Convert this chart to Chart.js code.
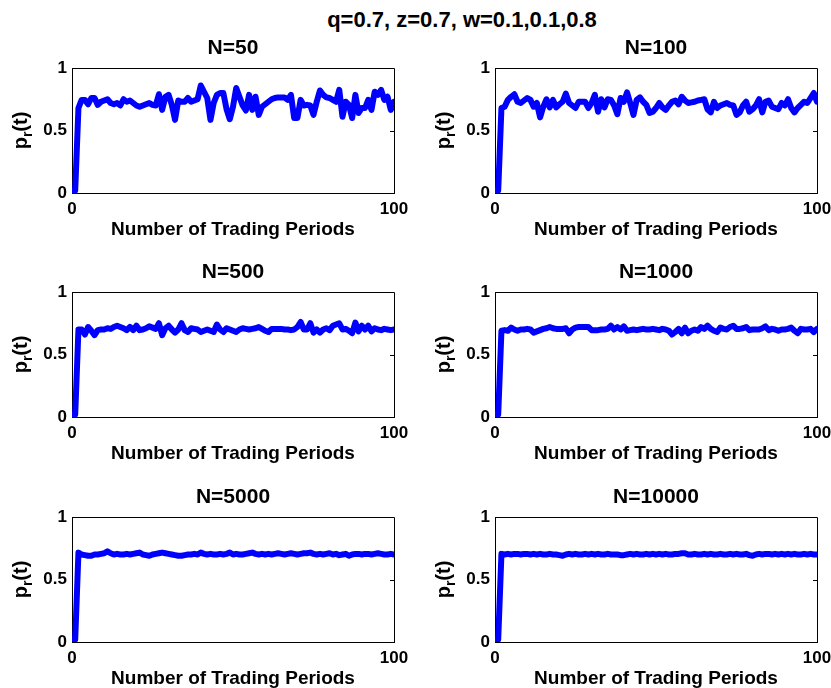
<!DOCTYPE html>
<html>
<head>
<meta charset="utf-8">
<script src="https://cdn.jsdelivr.net/npm/chart.js@4.4.0/dist/chart.umd.min.js"></script>
<style>
  html, body { margin: 0; padding: 0; background: #fff; overflow: hidden; }
  #page { position: relative; width: 831px; height: 688px; overflow: hidden; }
  #page canvas { position: absolute; }
  #suptitle {
    position: absolute; left: 262px; width: 400px; top: 7px;
    text-align: center; line-height: 24px; white-space: nowrap;
    font: bold 22px "Liberation Sans", Arial, Helvetica, sans-serif; color: #000;
  }
</style>
</head>
<body>
<div id="page">
  <div id="suptitle">q=0.7, z=0.7, w=0.1,0.1,0.8</div>
  <canvas id="c50" width="415" height="240" style="left:0px;top:8px"></canvas>
  <canvas id="c100" width="430" height="240" style="left:415px;top:8px"></canvas>
  <canvas id="c500" width="415" height="240" style="left:0px;top:232px"></canvas>
  <canvas id="c1000" width="430" height="240" style="left:415px;top:232px"></canvas>
  <canvas id="c5000" width="415" height="240" style="left:0px;top:457px"></canvas>
  <canvas id="c10000" width="430" height="240" style="left:415px;top:457px"></canvas>
</div>
<script>
// trading periods 0..100
var periods = Array.from({ length: 101 }, function (_, i) { return i; });

var xTicks = [0, 100];
var yTicks = [0, 0.5, 1];

// p_r(t)
var prN50 = [
  0.02, 0.02, 0.68, 0.745, 0.745, 0.71, 0.76, 0.76, 0.705, 0.73,
  0.74, 0.75, 0.72, 0.71, 0.72, 0.70, 0.75, 0.73, 0.74, 0.72,
  0.70, 0.69, 0.70, 0.71, 0.72, 0.705, 0.70, 0.79, 0.665, 0.77,
  0.785, 0.705, 0.585, 0.74, 0.73, 0.73, 0.76, 0.73, 0.74, 0.75,
  0.86, 0.81, 0.76, 0.585, 0.72, 0.785, 0.80, 0.80, 0.67, 0.59,
  0.69, 0.84, 0.77, 0.70, 0.66, 0.785, 0.665, 0.77, 0.625, 0.69,
  0.71, 0.73, 0.75, 0.76, 0.765, 0.765, 0.765, 0.745, 0.785, 0.60,
  0.60, 0.745, 0.70, 0.705, 0.70, 0.625, 0.73, 0.82, 0.785, 0.765,
  0.76, 0.745, 0.73, 0.825, 0.61, 0.73, 0.705, 0.60, 0.785, 0.64,
  0.68, 0.68, 0.745, 0.665, 0.81, 0.785, 0.825, 0.745, 0.77, 0.665,
  0.73
];
var prN100 = [
  0.02, 0.02, 0.68, 0.69, 0.745, 0.77, 0.79, 0.73, 0.72, 0.74,
  0.76, 0.745, 0.69, 0.72, 0.605, 0.69, 0.75, 0.685, 0.745, 0.685,
  0.71, 0.73, 0.795, 0.72, 0.70, 0.68, 0.73, 0.73, 0.73, 0.68,
  0.72, 0.785, 0.65, 0.75, 0.685, 0.75, 0.745, 0.70, 0.63, 0.76,
  0.73, 0.805, 0.72, 0.625, 0.745, 0.765, 0.73, 0.705, 0.64, 0.65,
  0.68, 0.72, 0.685, 0.665, 0.70, 0.73, 0.74, 0.71, 0.77, 0.74,
  0.72, 0.725, 0.73, 0.74, 0.745, 0.75, 0.67, 0.645, 0.73, 0.68,
  0.70, 0.71, 0.72, 0.705, 0.70, 0.625, 0.645, 0.70, 0.73, 0.65,
  0.67, 0.70, 0.75, 0.645, 0.73, 0.74, 0.69, 0.68, 0.67, 0.72,
  0.70, 0.75, 0.68, 0.645, 0.68, 0.705, 0.73, 0.72, 0.76, 0.80,
  0.73
];
var prN500 = [
  0.02, 0.02, 0.70, 0.70, 0.66, 0.72, 0.69, 0.655, 0.695, 0.70,
  0.70, 0.71, 0.705, 0.72, 0.73, 0.72, 0.71, 0.695, 0.72, 0.695,
  0.73, 0.695, 0.70, 0.71, 0.725, 0.715, 0.705, 0.75, 0.655, 0.71,
  0.73, 0.70, 0.675, 0.70, 0.75, 0.695, 0.68, 0.71, 0.705, 0.70,
  0.68, 0.69, 0.70, 0.69, 0.68, 0.74, 0.70, 0.68, 0.71, 0.70,
  0.69, 0.68, 0.70, 0.71, 0.705, 0.70, 0.705, 0.71, 0.72, 0.705,
  0.69, 0.68, 0.705, 0.705, 0.705, 0.705, 0.70, 0.70, 0.695, 0.70,
  0.72, 0.76, 0.70, 0.70, 0.75, 0.675, 0.70, 0.675, 0.70, 0.71,
  0.695, 0.73, 0.74, 0.75, 0.70, 0.705, 0.69, 0.67, 0.755, 0.685,
  0.73, 0.70, 0.73, 0.685, 0.71, 0.70, 0.695, 0.705, 0.70, 0.695,
  0.70
];
var prN1000 = [
  0.02, 0.02, 0.69, 0.695, 0.69, 0.715, 0.70, 0.69, 0.70, 0.70,
  0.705, 0.70, 0.675, 0.685, 0.695, 0.705, 0.71, 0.72, 0.71, 0.705,
  0.705, 0.705, 0.71, 0.67, 0.70, 0.715, 0.72, 0.72, 0.72, 0.72,
  0.695, 0.695, 0.695, 0.70, 0.70, 0.705, 0.73, 0.70, 0.72, 0.70,
  0.725, 0.69, 0.695, 0.70, 0.695, 0.70, 0.705, 0.70, 0.70, 0.705,
  0.70, 0.695, 0.705, 0.70, 0.69, 0.66, 0.68, 0.705, 0.67, 0.715,
  0.67, 0.69, 0.70, 0.69, 0.72, 0.705, 0.73, 0.705, 0.69, 0.68,
  0.715, 0.705, 0.70, 0.72, 0.73, 0.705, 0.705, 0.71, 0.72, 0.695,
  0.70, 0.70, 0.70, 0.71, 0.725, 0.695, 0.705, 0.70, 0.69, 0.70,
  0.70, 0.705, 0.715, 0.69, 0.67, 0.705, 0.70, 0.70, 0.705, 0.68,
  0.705
];
var prN5000 = [
  0.02, 0.02, 0.715, 0.70, 0.695, 0.69, 0.69, 0.70, 0.70, 0.705,
  0.71, 0.725, 0.71, 0.70, 0.705, 0.70, 0.70, 0.705, 0.70, 0.705,
  0.71, 0.715, 0.70, 0.695, 0.69, 0.70, 0.705, 0.71, 0.715, 0.71,
  0.705, 0.70, 0.695, 0.69, 0.69, 0.695, 0.70, 0.70, 0.705, 0.70,
  0.715, 0.705, 0.70, 0.705, 0.70, 0.70, 0.705, 0.70, 0.705, 0.715,
  0.70, 0.705, 0.70, 0.70, 0.705, 0.71, 0.715, 0.705, 0.70, 0.705,
  0.70, 0.705, 0.70, 0.705, 0.71, 0.705, 0.70, 0.705, 0.71, 0.705,
  0.70, 0.705, 0.71, 0.71, 0.715, 0.705, 0.70, 0.705, 0.70, 0.705,
  0.71, 0.70, 0.705, 0.695, 0.70, 0.705, 0.69, 0.70, 0.705, 0.705,
  0.70, 0.705, 0.705, 0.70, 0.705, 0.71, 0.705, 0.70, 0.70, 0.705,
  0.70
];
var prN10000 = [
  0.02, 0.02, 0.705, 0.70, 0.705, 0.70, 0.705, 0.705, 0.70, 0.705,
  0.705, 0.70, 0.705, 0.70, 0.705, 0.70, 0.70, 0.705, 0.70, 0.70,
  0.695, 0.69, 0.70, 0.705, 0.70, 0.705, 0.70, 0.70, 0.705, 0.70,
  0.705, 0.70, 0.705, 0.70, 0.70, 0.705, 0.70, 0.70, 0.70, 0.695,
  0.695, 0.70, 0.705, 0.70, 0.705, 0.70, 0.70, 0.705, 0.70, 0.705,
  0.70, 0.705, 0.70, 0.705, 0.70, 0.70, 0.705, 0.705, 0.71, 0.71,
  0.70, 0.70, 0.705, 0.70, 0.70, 0.705, 0.70, 0.705, 0.70, 0.70,
  0.705, 0.70, 0.70, 0.705, 0.70, 0.705, 0.70, 0.70, 0.705, 0.695,
  0.69, 0.70, 0.705, 0.70, 0.705, 0.705, 0.70, 0.705, 0.70, 0.705,
  0.70, 0.705, 0.70, 0.705, 0.70, 0.70, 0.705, 0.70, 0.705, 0.70,
  0.70
];

var FONT = '"Liberation Sans", Arial, Helvetica, sans-serif';

// box top/right, the little 0.5 tick, titles and the p_r(t) label (needs a subscript)
var panelDecor = {
  id: 'panelDecor',
  afterDraw: function (chart, args, opts) {
    var ctx = chart.ctx;
    var a = chart.chartArea;
    var cx = (a.left + a.right) / 2;
    var cy = (a.top + a.bottom) / 2;

    ctx.save();
    ctx.strokeStyle = '#000';
    ctx.lineWidth = 1;
    ctx.beginPath();
    ctx.moveTo(a.left, a.top + 0.5);
    ctx.lineTo(a.right + 0.5, a.top + 0.5);
    ctx.lineTo(a.right + 0.5, a.bottom + 0.5);
    var yMid = Math.round(chart.scales.y.getPixelForValue(yTicks[1])) + 0.5;
    ctx.moveTo(a.right - 4, yMid);
    ctx.lineTo(a.right, yMid);
    ctx.stroke();

    ctx.fillStyle = '#000';
    ctx.textAlign = 'center';
    ctx.textBaseline = 'alphabetic';
    ctx.font = 'bold 21px ' + FONT;
    ctx.fillText(opts.title, cx, a.top - 14);
    ctx.font = 'bold 19px ' + FONT;
    ctx.fillText('Number of Trading Periods', cx, a.bottom + 42);

    // p_r(t), rotated
    ctx.translate(a.left - 51, cy);
    ctx.rotate(-Math.PI / 2);
    ctx.textAlign = 'left';
    ctx.font = 'bold 20px ' + FONT;
    var wp = ctx.measureText('p').width;
    var wt = ctx.measureText('(t)').width;
    ctx.font = 'bold 14px ' + FONT;
    var wr = ctx.measureText('r').width;
    var x0 = -(wp + wr + wt) / 2;
    ctx.font = 'bold 20px ' + FONT;
    ctx.fillText('p', x0, 6);
    ctx.font = 'bold 14px ' + FONT;
    ctx.fillText('r', x0 + wp, 11);
    ctx.font = 'bold 20px ' + FONT;
    ctx.fillText('(t)', x0 + wp + wr, 6);
    ctx.restore();
  }
};

function makePanel(id, title, values, yAxisWidth, padRight) {
  var tickFont = { family: FONT, size: 17, weight: 'bold' };
  return new Chart(document.getElementById(id), {
    type: 'line',
    data: {
      datasets: [{
        data: periods.map(function (t, i) { return { x: t, y: values[i] }; }),
        borderColor: '#0000ff',
        borderWidth: 6,
        pointRadius: 0,
        tension: 0,
        fill: false,
        borderJoinStyle: 'round',
        borderCapStyle: 'round'
      }]
    },
    options: {
      responsive: false,
      animation: false,
      devicePixelRatio: 1,
      layout: { padding: { top: 60, right: padRight, left: 0, bottom: 0 } },
      plugins: {
        legend: { display: false },
        tooltip: { enabled: false },
        panelDecor: { title: title }
      },
      scales: {
        x: {
          type: 'linear',
          min: xTicks[0],
          max: xTicks[1],
          grid: { display: false, drawTicks: false },
          border: { display: true, color: '#000', width: 1 },
          ticks: { stepSize: xTicks[1] - xTicks[0], padding: 6, color: '#000', font: tickFont, maxRotation: 0 },
          afterFit: function (s) { s.height = 55; }
        },
        y: {
          min: yTicks[0],
          max: yTicks[2],
          grid: { display: false, drawTicks: false },
          border: { display: true, color: '#000', width: 1 },
          ticks: {
            stepSize: yTicks[1], padding: 5, color: '#000', font: tickFont,
            callback: function (v) { return String(v); }
          },
          afterFit: function (s) { s.width = yAxisWidth; }
        }
      }
    },
    plugins: [panelDecor]
  });
}

makePanel('c50', 'N=50', prN50, 72, 21);
makePanel('c100', 'N=100', prN100, 80, 28);
makePanel('c500', 'N=500', prN500, 72, 21);
makePanel('c1000', 'N=1000', prN1000, 80, 28);
makePanel('c5000', 'N=5000', prN5000, 72, 21);
makePanel('c10000', 'N=10000', prN10000, 80, 28);
</script>
</body>
</html>
